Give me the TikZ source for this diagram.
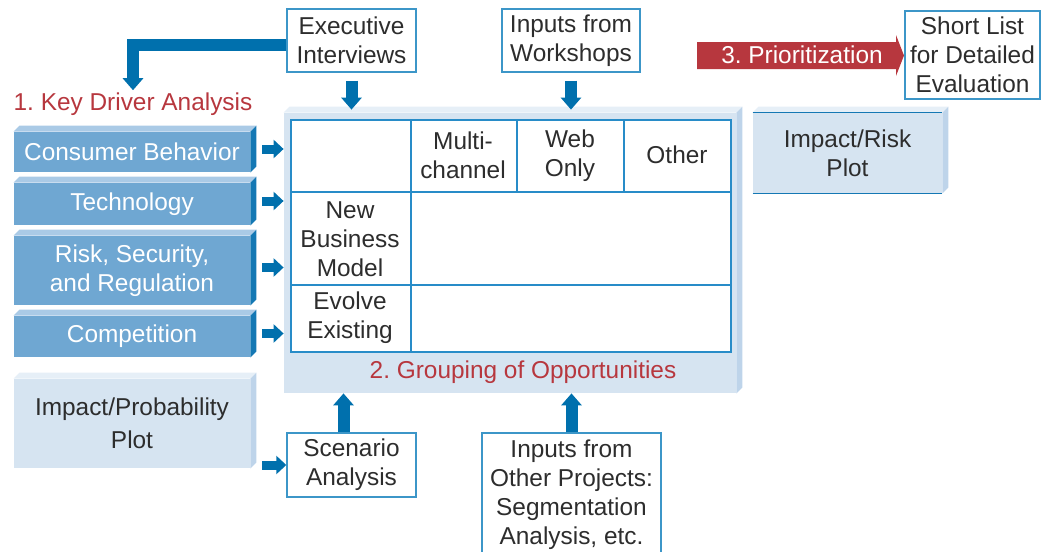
\documentclass[tikz,border=0pt]{standalone}
\usepackage{fontspec}
\setmainfont{Liberation Sans}
\usetikzlibrary{arrows.meta}

\definecolor{drvfill}{RGB}{111,167,210}
\definecolor{drvtop}{RGB}{170,202,230}
\definecolor{drvside}{RGB}{20,120,180}
\definecolor{plotfill}{RGB}{214,228,241}
\definecolor{plottop}{RGB}{230,239,247}
\definecolor{plotside}{RGB}{190,212,234}
\definecolor{arrblue}{RGB}{0,112,173}
\definecolor{kdred}{RGB}{183,55,62}
\definecolor{boxline}{RGB}{60,150,200}
\definecolor{gridline}{RGB}{40,140,200}
\definecolor{textgrey}{RGB}{45,45,45}

\tikzset{
  txt/.style={font=\fontsize{12.2}{14.5}\selectfont, text=textgrey, align=center},
  redtxt/.style={txt, text=kdred, inner sep=1pt},
  whitebox/.style={txt, draw=boxline, line width=0.7pt, fill=white, inner sep=0pt},
  drvbox/.style={txt, fill=drvfill, text=white, inner sep=0pt,
    minimum width=118pt},
  plotbox/.style={txt, fill=plotfill, inner sep=0pt},
  bluearr/.style={draw=arrblue, line width=6pt, -{Triangle[width=10pt,length=6pt]}},
  smallarr/.style={draw=arrblue, line width=4.5pt, -{Triangle[width=9pt,length=5pt]}},
}

\begin{document}
\frenchspacing
\begin{tikzpicture}[x=0.5pt,y=-0.5pt]
  \useasboundingbox (0,0) rectangle (1041,552);

  % key drivers
  \node[drvbox, minimum height=20pt] (cons) at (132,152) {Consumer Behavior};
  \node[drvbox, minimum height=21pt] (tech) at (132,204) {Technology};
  \node[drvbox, minimum height=34.5pt] (risk) at (132,270.5) {Risk, Security,\\and Regulation};
  \node[drvbox, minimum height=20.5pt] (comp) at (132,336.5) {Competition};
  \foreach \n in {cons,tech,risk,comp} {
    \fill[drvtop] (\n.north west) -- ++(6,-6) -- ([shift={(6,-6)}]\n.north east)
      -- (\n.north east) -- cycle;
    \fill[drvside] (\n.north east) -- ++(6,-6) -- ([shift={(6,-6)}]\n.south east)
      -- (\n.south east) -- cycle;
  }
  \node[plotbox, minimum width=118pt, minimum height=44.5pt] (impprob) at (132,423.5)
    {Impact/Probability\\[2pt]Plot};
  \node[plotbox, minimum width=94.5pt, minimum height=40pt] (imprisk) at (847.5,153)
    {Impact/Risk\\Plot};
  % big panel
  \node[plotbox, minimum width=226pt, minimum height=140pt] (panel) at (510,253) {};
  \foreach \n in {impprob,imprisk,panel} {
    \fill[plottop] (\n.north west) -- ++(6,-6) -- ([shift={(6,-6)}]\n.north east)
      -- (\n.north east) -- cycle;
    \fill[plotside] (\n.north east) -- ++(6,-6) -- ([shift={(6,-6)}]\n.south east)
      -- (\n.south east) -- cycle;
  }
  \draw[drvside, line width=0.6pt] (imprisk.north west) -- (imprisk.north east);
  \draw[drvside, line width=0.6pt] (imprisk.south west) -- (imprisk.south east);

  % grid of opportunities
  \node[draw=gridline, fill=white, line width=0.8pt, inner sep=0pt,
    minimum width=220pt, minimum height=116pt] (tbl) at (511,236) {};
  \draw[gridline, line width=0.8pt] (411,120) -- (411,352)
    (517,120) -- (517,192) (624,120) -- (624,192)
    (291,192) -- (731,192) (291,285) -- (731,285);
  \node[txt] (multi) at (463,155) {Multi-\\channel};
  \node[txt] (web) at (570,156) {Web\\Only};
  \node[txt] (other) at (677,155) {Other};
  \node[txt] (newbm) at (350,239) {New\\Business\\Model};
  \node[txt] (evolve) at (350,318) {Evolve\\Existing};
  \node[redtxt] (grp) at (523,372) {2. Grouping of Opportunities};

  % inputs
  \node[whitebox, minimum width=64.5pt, minimum height=31.5pt] (exec) at (351.5,40.5)
    {Executive\\Interviews};
  \node[whitebox, minimum width=69pt, minimum height=31.5pt] (wshop) at (571,40.5)
    {Inputs from\\Workshops};
  \node[whitebox, minimum width=64.5pt, minimum height=32pt] (scen) at (351.5,465)
    {Scenario\\Analysis};
  \node[whitebox, minimum width=89.5pt, minimum height=61.5pt] (otherp) at (571.5,494.5)
    {Inputs from\\Other Projects:\\Segmentation\\Analysis, etc.};
  \node[whitebox, minimum width=67.5pt, minimum height=44pt] (short) at (972.5,55)
    {Short List\\for Detailed\\Evaluation};
  \node[redtxt] (kda) at (133,104) {1. Key Driver Analysis};

  % prioritization arrow
  \fill[kdred] (697,42) -- (896,42) -- (896,35) -- (904,55.5) -- (896,76)
    -- (896,69) -- (697,69) -- cycle;
  \node[txt, text=white] (prio) at (802,55) {3. Prioritization};

  % arrows
  \draw[bluearr] ([yshift=-2pt]exec.west) -| (kda.north);
  \draw[bluearr, shorten >=1.5pt] ([yshift=-4pt]exec.south) -- (exec.south |- panel.north);
  \draw[bluearr, shorten >=1.5pt] ([yshift=-4pt]wshop.south) -- (wshop.south |- panel.north);
  \draw[bluearr] ([xshift=-4pt]scen.north) -- ([xshift=-4pt]scen.north |- panel.south);
  \draw[bluearr] (otherp.north) -- (otherp.north |- panel.south);
  \foreach \n in {cons,tech,risk,comp}
    \draw[smallarr] ([shift={(6pt,1.5pt)}]\n.east)
      -- ([yshift=1.5pt]\n.east -| panel.west);
  \draw[smallarr] ([xshift=6pt]impprob.east |- scen.west) -- (scen.west);
\end{tikzpicture}
\end{document}
